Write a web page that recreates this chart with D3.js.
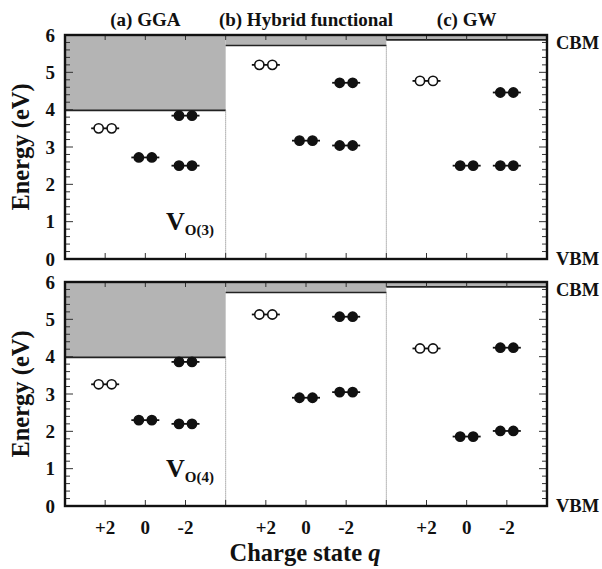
<!DOCTYPE html>
<html><head><meta charset="utf-8">
<script src="https://cdn.jsdelivr.net/npm/d3@7/dist/d3.min.js"></script>
<style>body{margin:0;background:#fff}svg{display:block}text{font-family:"Liberation Serif","Times New Roman",serif;font-weight:bold;fill:#111}</style>
</head><body>
<script>
const methods = ["(a) GGA", "(b) Hybrid functional", "(c) GW"];
const charges = ["+2", "0", "-2"];
const yTicks = [0, 1, 2, 3, 4, 5, 6];
const cbmLevels = [3.98, 5.72, 5.87];
// V_O(3)
const vo3Plus2 = [3.50, 5.20, 4.77];      // empty levels
const vo3Zero = [2.72, 3.17, 2.50];       // filled
const vo3Minus2Upper = [3.84, 4.72, 4.46];
const vo3Minus2Lower = [2.50, 3.04, 2.50];
// V_O(4)
const vo4Plus2 = [3.26, 5.13, 4.22];
const vo4Zero = [2.30, 2.90, 1.86];
const vo4Minus2Upper = [3.86, 5.07, 4.24];
const vo4Minus2Lower = [2.20, 3.05, 2.01];

const W = 602, H = 569;
const svg = d3.select("body").append("svg").attr("width", W).attr("height", H);
const x = d3.scaleLinear().domain([0, 12]).range([65, 547]);
const panels = [
  {label: "V", sub: "O(3)", y: d3.scaleLinear().domain([0, 6]).range([259, 35]),
   levels: [vo3Plus2, vo3Zero, vo3Minus2Upper, vo3Minus2Lower]},
  {label: "V", sub: "O(4)", y: d3.scaleLinear().domain([0, 6]).range([506, 282]),
   levels: [vo4Plus2, vo4Zero, vo4Minus2Upper, vo4Minus2Lower]}
];
const chargeIdx = [0, 1, 2, 2];
const filled = [false, true, true, true];

panels.forEach(p => {
  const y = p.y;
  const g = svg.append("g");
  methods.forEach((m, k) => {
    g.append("rect").attr("x", x(k * 4)).attr("y", y(6))
      .attr("width", x(k * 4 + 4) - x(k * 4)).attr("height", y(cbmLevels[k]) - y(6))
      .attr("fill", "#b4b4b4");
    g.append("line").attr("x1", x(k * 4)).attr("x2", x(k * 4 + 4))
      .attr("y1", y(cbmLevels[k])).attr("y2", y(cbmLevels[k]))
      .attr("stroke", "#222").attr("stroke-width", 1.6);
    if (k > 0) {
      g.append("line").attr("x1", x(k * 4)).attr("x2", x(k * 4))
        .attr("y1", y(cbmLevels[k - 1])).attr("y2", y(0))
        .attr("stroke", "#777").attr("stroke-width", 1).attr("stroke-dasharray", "1,1");
    }
  });
  const minor = d3.range(0, 6.001, 0.2);
  minor.forEach(v => {
    const major = Math.abs(v - Math.round(v)) < 1e-6;
    const len = major ? 8 : 5;
    g.append("line").attr("x1", x(0)).attr("x2", x(0) + len).attr("y1", y(v)).attr("y2", y(v))
      .attr("stroke", "#333").attr("stroke-width", 1);
    g.append("line").attr("x1", x(12)).attr("x2", x(12) - len).attr("y1", y(v)).attr("y2", y(v))
      .attr("stroke", "#333").attr("stroke-width", 1);
  });
  d3.range(1, 12).forEach(t => {
    g.append("line").attr("x1", x(t)).attr("x2", x(t)).attr("y1", y(0)).attr("y2", y(0) - 6)
      .attr("stroke", "#333").attr("stroke-width", 1);
    g.append("line").attr("x1", x(t)).attr("x2", x(t)).attr("y1", y(6)).attr("y2", y(6) + 5)
      .attr("stroke", "#333").attr("stroke-width", 1);
  });
  g.append("rect").attr("x", x(0)).attr("y", y(6)).attr("width", x(12) - x(0)).attr("height", y(0) - y(6))
    .attr("fill", "none").attr("stroke", "#111").attr("stroke-width", 2.4);
  g.selectAll(".yl").data(yTicks).join("text").attr("x", 55).attr("y", d => y(d) + 6.5)
    .attr("text-anchor", "end").attr("font-size", 19).text(d => d);
  p.levels.forEach((arr, si) => {
    arr.forEach((v, k) => {
      const cx = x(k * 4 + chargeIdx[si] + 1), cy = y(v);
      g.append("line").attr("x1", cx - 14).attr("x2", cx + 14).attr("y1", cy).attr("y2", cy)
        .attr("stroke", "#111").attr("stroke-width", 1.8);
      [-6.5, 6.5].forEach(dx => {
        g.append("circle").attr("cx", cx + dx).attr("cy", cy).attr("r", 4.6)
          .attr("fill", filled[si] ? "#111" : "#fff").attr("stroke", "#111").attr("stroke-width", 1.6);
      });
    });
  });
  const t = g.append("text").attr("x", 166).attr("y", y(0) - 29).attr("font-size", 26);
  t.append("tspan").text(p.label);
  t.append("tspan").attr("font-size", 15).attr("dy", 5).text(p.sub);
  g.append("text").attr("x", 556).attr("y", y(6) + 14).attr("font-size", 18.5).text("CBM");
  g.append("text").attr("x", 556).attr("y", y(0) + 6).attr("font-size", 18.5).text("VBM");
  g.append("text").attr("transform", `translate(29,${(y(0) + y(6)) / 2}) rotate(-90)`)
    .attr("text-anchor", "middle").attr("font-size", 24.5).text("Energy (eV)");
});

svg.selectAll(".mt").data(methods).join("text")
  .attr("x", (d, k) => x(k * 4 + 2)).attr("y", 26).attr("text-anchor", "middle")
  .attr("font-size", 19).text(d => d);
const yb = panels[1].y;
methods.forEach((m, k) => {
  charges.forEach((c, i) => {
    svg.append("text").attr("x", x(k * 4 + i + 1)).attr("y", yb(0) + 28).attr("text-anchor", "middle")
      .attr("font-size", 19).text(c);
  });
});
const xt = svg.append("text").attr("x", 305).attr("y", 561).attr("text-anchor", "middle").attr("font-size", 24.5);
xt.append("tspan").text("Charge state ");
xt.append("tspan").attr("font-style", "italic").text("q");
</script>
</body></html>
